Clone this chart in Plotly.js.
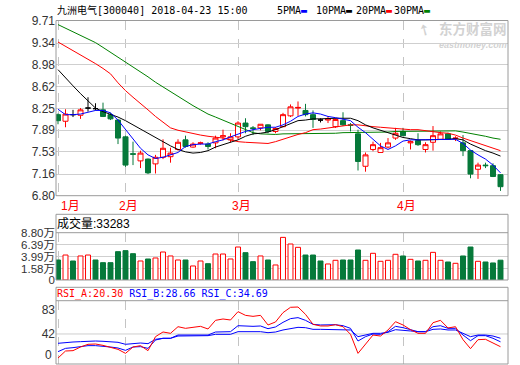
<!DOCTYPE html>
<html><head><meta charset="utf-8">
<script src="https://cdn.plot.ly/plotly-3.0.1.min.js"></script>
<style>html,body{margin:0;padding:0;background:#fff}#c{width:520px;height:365px}</style>
</head><body><div id="c"></div>
<script>
// ---------------- data ----------------
const stockName = '九洲电气', stockCode = '300040', stamp = '2018-04-23 15:00';
const dates = [
 '2018-01-19','2018-01-22','2018-01-23','2018-01-24','2018-01-25','2018-01-26','2018-01-29','2018-01-30','2018-01-31',
 '2018-02-01','2018-02-02','2018-02-05','2018-02-06','2018-02-07','2018-02-08','2018-02-09','2018-02-12','2018-02-13','2018-02-14',
 '2018-02-22','2018-02-23','2018-02-26','2018-02-27','2018-02-28',
 '2018-03-01','2018-03-02','2018-03-05','2018-03-06','2018-03-07','2018-03-08','2018-03-09','2018-03-12','2018-03-13','2018-03-14',
 '2018-03-15','2018-03-16','2018-03-19','2018-03-20','2018-03-21','2018-03-22','2018-03-23','2018-03-26','2018-03-27','2018-03-28',
 '2018-03-29','2018-03-30',
 '2018-04-02','2018-04-03','2018-04-04','2018-04-09','2018-04-10','2018-04-11','2018-04-12','2018-04-13','2018-04-16','2018-04-17',
 '2018-04-18','2018-04-19','2018-04-20','2018-04-23'];
const open  = [8.15,8.04,8.15,8.14,8.26,8.25,8.23,8.15,8.06,7.78, 7.50,7.38,7.41,7.33,7.44,7.45,7.57,7.73,7.61,7.67,
               7.66,7.68,7.78,7.73,7.78,8.01,7.93,7.93,7.98,7.87, 7.95,8.13,8.26,8.22,8.15,8.06,8.06,7.95,8.05,7.98,
               7.83,7.29,7.57,7.52,7.61,7.76,7.87,7.68,7.72,7.57, 7.69,7.74,7.83,7.75,7.68,7.55,7.24,7.31,7.30,7.15];
const high  = [8.17,8.24,8.23,8.26,8.44,8.34,8.35,8.18,8.08,7.80, 7.70,7.55,7.42,7.48,7.74,7.60,7.74,7.80,7.69,7.70,
               7.69,7.80,7.90,7.84,8.04,8.09,7.96,7.99,7.99,7.94, 8.18,8.32,8.37,8.33,8.22,8.09,8.12,8.09,8.19,8.01,
               7.90,7.52,7.70,7.68,7.76,7.93,7.93,7.72,7.84,7.69, 7.96,7.87,7.85,7.79,7.81,7.55,7.35,7.35,7.34,7.16];
const low   = [7.99,7.94,8.11,8.08,8.20,8.22,8.11,8.06,7.66,7.28, 7.31,7.26,7.16,7.17,7.41,7.35,7.55,7.60,7.60,7.65,
               7.57,7.59,7.72,7.69,7.74,7.84,7.81,7.89,7.84,7.84, 7.94,8.11,8.13,8.12,7.93,8.02,8.01,7.93,7.96,7.87,
               7.22,7.20,7.54,7.52,7.59,7.73,7.80,7.57,7.63,7.52, 7.55,7.73,7.73,7.71,7.46,7.09,7.08,7.26,7.11,6.88];
const close = [8.05,8.16,8.15,8.23,8.26,8.25,8.12,8.08,7.76,7.31, 7.49,7.51,7.18,7.44,7.59,7.51,7.69,7.62,7.66,7.68,
               7.62,7.76,7.80,7.78,8.01,7.95,7.92,7.99,7.87,7.92, 8.15,8.28,8.27,8.15,8.07,8.06,8.08,8.07,7.98,7.97,
               7.37,7.48,7.65,7.60,7.68,7.84,7.80,7.70,7.65,7.65, 7.80,7.83,7.74,7.76,7.55,7.16,7.31,7.30,7.12,6.95];
const ma5  = [8.24,8.15,8.15,8.16,8.19,8.22,8.22,8.18,8.06,7.90, 7.73,7.59,7.48,7.42,7.44,7.48,7.52,7.62,7.65,7.66,
              7.66,7.70,7.73,7.78,7.83,7.87,7.90,7.92,7.94,7.94, 7.98,8.04,8.12,8.16,8.18,8.16,8.12,8.10,8.08,8.05,
              7.94,7.85,7.74,7.63,7.57,7.63,7.71,7.73,7.73,7.73, 7.73,7.74,7.74,7.74,7.67,7.56,7.48,7.41,7.31,7.18];
const ma10 = [8.90,8.76,8.63,8.50,8.38,8.26,8.20,8.16,8.11,8.05, 7.98,7.90,7.83,7.76,7.69,7.63,7.57,7.53,7.51,7.52,
              7.55,7.61,7.65,7.69,7.73,7.79,7.83,7.84,7.86,7.90, 7.95,8.00,8.05,8.06,8.08,8.08,8.09,8.09,8.09,8.09,
              8.05,7.98,7.93,7.89,7.84,7.80,7.77,7.75,7.73,7.73, 7.73,7.73,7.74,7.75,7.73,7.66,7.60,7.55,7.51,7.46];
const ma20 = [9.36,9.29,9.22,9.15,9.08,9.00,8.92,8.83,8.68,8.55, 8.44,8.34,8.23,8.12,8.03,7.93,7.89,7.86,7.84,7.81,
              7.79,7.78,7.76,7.73,7.70,7.69,7.68,7.67,7.67,7.70, 7.74,7.79,7.82,7.85,7.90,7.91,7.93,7.94,7.96,7.98,
              7.98,7.96,7.95,7.94,7.93,7.91,7.90,7.90,7.90,7.88, 7.86,7.85,7.84,7.81,7.76,7.72,7.67,7.64,7.60,7.55];
const ma30 = [9.65,9.59,9.54,9.47,9.42,9.35,9.27,9.19,9.11,9.02, 8.94,8.86,8.78,8.69,8.61,8.53,8.45,8.38,8.30,8.23,
              8.16,8.11,8.06,8.01,7.95,7.90,7.85,7.83,7.82,7.82, 7.83,7.83,7.84,7.84,7.84,7.84,7.84,7.84,7.85,7.85,
              7.85,7.85,7.86,7.86,7.86,7.87,7.87,7.88,7.88,7.88, 7.88,7.88,7.88,7.88,7.86,7.84,7.81,7.79,7.76,7.74];
// volume in 万 (10k shares)
const volume = [3.37,4.36,3.17,4.17,4.36,3.37,2.84,2.84,5.03,5.23, 4.63,3.17,3.57,3.77,4.96,4.17,3.37,3.37,2.18,3.17,
                2.64,4.56,4.56,3.57,5.95,4.83,3.04,4.17,3.37,2.38, 7.87,6.55,5.89,4.36,4.36,3.17,2.58,3.31,3.37,3.37,
                5.36,3.31,4.70,3.11,3.31,4.50,4.17,3.50,3.17,3.31, 4.89,3.31,2.97,2.71,4.17,5.95,3.11,2.97,2.78,3.33];
const lastVolume = 33283;
const rsiA = [1.0,13.0,13.6,19.8,24.4,24.9,22.6,18.7,15.8,9.0, 19.8,22.1,13.6,37.4,45.4,43.1,54.4,51.6,53.3,55.0,
              50.5,65.2,67.5,65.8,80.0,73.7,72.0,73.7,57.3,62.4, 78.3,87.4,87.9,75.4,58.4,55.6,55.6,57.8,54.4,41.4,
              9.0,25.5,40.2,38.5,48.8,62.9,57.3,49.3,43.1,43.1, 61.2,65.2,52.2,54.4,32.3,17.0,32.3,32.9,26.6,20.30];
const rsiB = [11.9,17.5,18.7,20.4,22.1,22.1,21.5,19.8,18.1,14.1, 19.8,20.4,17.5,31.7,34.6,34.6,40.2,40.2,40.2,40.8,
              40.2,45.3,45.9,45.9,56.1,55.0,55.0,55.6,51.0,53.9, 61.8,68.1,69.8,65.2,58.4,57.3,57.3,57.8,56.1,51.6,
              30.0,37.4,41.9,41.4,45.9,55.0,52.7,49.3,45.9,45.9, 54.4,56.1,51.6,51.6,40.2,30.6,39.1,39.1,34.6,28.66];
const rsiC = [26.1,27.8,28.3,28.9,30.0,30.0,29.5,28.9,27.8,24.4, 26.1,26.6,25.5,32.9,34.6,34.6,38.5,38.5,38.5,39.1,
              39.1,41.4,41.4,41.4,45.9,45.9,45.9,45.9,44.2,45.3, 48.8,51.6,53.3,52.7,49.9,49.9,49.9,49.9,49.9,48.8,
              37.4,40.2,43.1,43.1,44.8,49.3,48.8,47.1,45.9,45.9, 49.9,50.5,48.8,48.8,43.1,37.4,40.2,40.2,38.5,34.69];
const priceTickLabels = ['9.71','9.34','8.98','8.62','8.25','7.89','7.53','7.16','6.80'];
const volTickLabels = ['8.80万','6.39万','3.99万','1.58万'];
const rsiTickLabels = ['83','42','0'];
const maNames = ['5PMA','10PMA','20PMA','30PMA'];

// ---------------- drawing ----------------
const W = 520, H = 365, ML = 56, MR = 12;
const px2x = px => (px - ML) / (W - ML - MR);
const py2y = py => 1 - py / H;
const PRICE_TOP = 21, PRICE_BOT = 195.7;
const VOL_TOP = 214.3, VOL_HEAD = 232.7, VOL_BOT = 280;
const RSI_TOP = 287.3, RSI_HEAD = 300.7, RSI_BOT = 364;
const RED = '#ff0000', GREEN = '#06793a', BLUE = '#0000ff', BLACK = '#000000', DGREEN = '#008000';
const FRAME = '#9a9a9a', GRID = '#cfcfcf', WM = '#d2d2d2';
const MONO = 'DejaVu Sans Mono, Noto Sans CJK SC, monospace';
const SANS = 'Liberation Sans, Arial, Noto Sans CJK SC, sans-serif';

const idx = dates.map((_, i) => i);
const upDay = idx.map(i => close[i] > open[i] || (close[i] === open[i] && i > 0 && close[i] >= close[i - 1]));
const sub = (arr, ids) => ids.map(i => arr[i]);
function candles(ids, incLine, incFill, decLine, decFill) {
  return {type: 'candlestick', x: sub(dates, ids), open: sub(open, ids), high: sub(high, ids),
    low: sub(low, ids), close: sub(close, ids), whiskerwidth: 0, hoverinfo: 'skip', showlegend: false,
    increasing: {line: {color: incLine, width: 1}, fillcolor: incFill},
    decreasing: {line: {color: decLine, width: 1}, fillcolor: decFill}, xaxis: 'x', yaxis: 'y'};
}
const upIds = idx.filter(i => close[i] > open[i]);
const dnIds = idx.filter(i => close[i] < open[i]);
const djIds = idx.filter(i => close[i] === open[i]);
const line = (y, color, ax) => ({type: 'scatter', mode: 'lines', x: dates, y, line: {color, width: 1},
  hoverinfo: 'skip', showlegend: false, xaxis: 'x', yaxis: ax});

const priceVals = priceTickLabels.map(Number);
const volVals = volTickLabels.map(s => parseFloat(s));
const rsiVals = rsiTickLabels.map(Number);
const VOL_BASE = -0.61;
const volMaxV = Math.max(...volVals);

const traces = [
  candles(upIds, RED, '#ffffff', RED, '#ffffff'),
  candles(dnIds, GREEN, GREEN, GREEN, GREEN),
  candles(djIds, BLACK, BLACK, BLACK, BLACK),
  line(ma30, DGREEN, 'y'), line(ma20, RED, 'y'), line(ma10, BLACK, 'y'), line(ma5, BLUE, 'y'),
  {type: 'bar', x: dates, y: volume.map(v => v - VOL_BASE), base: VOL_BASE, width: 0.66,
   marker: {color: upDay.map(u => u ? '#ffffff' : GREEN), line: {color: upDay.map(u => u ? RED : GREEN), width: 1}},
   hoverinfo: 'skip', showlegend: false, xaxis: 'x', yaxis: 'y2'},
  line(rsiC, BLUE, 'y3'), line(rsiB, BLUE, 'y3'), line(rsiA, RED, 'y3')
];

const monthStarts = idx.filter(i => i === 0 || dates[i].slice(5, 7) !== dates[i - 1].slice(5, 7));

const rect = (top, bot) => ({type: 'rect', xref: 'paper', yref: 'paper', x0: 0, x1: 1, y0: py2y(bot), y1: py2y(top),
  line: {color: FRAME, width: 1}, fillcolor: 'rgba(0,0,0,0)', layer: 'above'});
const hline = (yp) => ({type: 'line', xref: 'paper', yref: 'paper', x0: 0, x1: 1, y0: py2y(yp), y1: py2y(yp),
  line: {color: FRAME, width: 1}, layer: 'above'});

const maColors = [BLUE, BLACK, RED, DGREEN];
const maX = [276, 315, 355, 393];
const ann = [
  {text: stockName + '[' + stockCode + '] ' + stamp, x: px2x(56), y: py2y(10), xanchor: 'left', yanchor: 'middle',
   font: {family: MONO, size: 10, color: '#000'}},
  ...maNames.map((n, i) => ({text: n + '<span style="color:' + maColors[i] + '">▬</span>', x: px2x(maX[i]), y: py2y(10),
   xanchor: 'left', yanchor: 'middle', font: {family: MONO, size: 10, color: '#000'}})),
  {text: '成交量:' + lastVolume, x: px2x(56), y: py2y(223.5), xanchor: 'left', yanchor: 'middle',
   font: {family: SANS, size: 12, color: '#000'}},
  {text: '<span style="color:' + RED + '">RSI_A:' + rsiA[rsiA.length - 1].toFixed(2) + '</span> ' +
         '<span style="color:' + BLUE + '">RSI_B:' + rsiB[rsiB.length - 1].toFixed(2) + '</span> ' +
         '<span style="color:' + BLUE + '">RSI_C:' + rsiC[rsiC.length - 1].toFixed(2) + '</span>',
   x: px2x(56), y: py2y(294), xanchor: 'left', yanchor: 'middle', font: {family: MONO, size: 10, color: '#000'}},
  {text: '<b>东方财富网</b>', x: px2x(508), y: py2y(28), xanchor: 'right', yanchor: 'middle',
   font: {family: 'Noto Sans CJK SC', size: 13.5, color: WM}},
  {text: '<b><i>eastmoney.com</i></b>', x: px2x(508), y: py2y(44.5), xanchor: 'right', yanchor: 'middle',
   font: {family: SANS, size: 9, color: WM}},
  {text: '<b>➚</b>', x: px2x(424), y: py2y(30), xanchor: 'center', yanchor: 'middle', textangle: -60,
   font: {family: 'DejaVu Sans', size: 15, color: WM}},
  // month labels under the price panel
  ...monthStarts.map(i => ({text: parseInt(dates[i].slice(5, 7), 10) + '月', xref: 'x', x: dates[i], y: py2y(206),
   xanchor: i === 0 ? 'left' : 'center', xshift: i === 0 ? 2 : 3, yanchor: 'middle',
   font: {family: SANS, size: 12, color: RED}})),
  // lowest RSI label, drawn slightly above its value like the reference
  {text: rsiTickLabels[2], x: 0, xanchor: 'right', xshift: -3, yref: 'y3', y: rsiVals[2], yshift: 4, yanchor: 'middle',
   font: {family: SANS, size: 12, color: '#333'}}
].map(a => Object.assign({xref: 'paper', yref: 'paper', showarrow: false, borderpad: 0}, a));

const yCommon = {ticks: '', zeroline: false, showline: false, fixedrange: true,
  tickfont: {family: SANS, size: 12, color: '#333'}, gridcolor: GRID, gridwidth: 1, anchor: 'x'};

const layout = {
  width: W, height: H, margin: {l: ML, r: MR, t: 0, b: 0, pad: 0}, autosize: false,
  paper_bgcolor: '#fff', plot_bgcolor: '#fff', showlegend: false, boxgap: 0.333, boxgroupgap: 0, bargap: 0,
  xaxis: {type: 'category', categoryorder: 'array', categoryarray: dates, range: [-0.267, dates.length], anchor: 'y',
    rangeslider: {visible: false}, tickmode: 'array', tickvals: monthStarts.map(i => dates[i]),
    showticklabels: false, ticks: '',
    showgrid: true, gridcolor: '#c4c4c4', griddash: 'dash', gridwidth: 1, zeroline: false, showline: false, fixedrange: true},
  yaxis: Object.assign({}, yCommon, {domain: [py2y(PRICE_BOT), py2y(PRICE_TOP)],
    range: [Math.min(...priceVals), Math.max(...priceVals)], tickmode: 'array', tickvals: priceVals,
    ticktext: priceTickLabels, showgrid: true}),
  yaxis2: Object.assign({}, yCommon, {domain: [py2y(VOL_BOT), py2y(VOL_HEAD)], range: [VOL_BASE, volMaxV],
    tickmode: 'array', tickvals: volVals.concat([VOL_BASE]), ticktext: volTickLabels.concat(['0']), showgrid: true,
    tickfont: {family: SANS, size: 11.5, color: '#333'}, ticklabeloverflow: 'allow'}),
  yaxis3: Object.assign({}, yCommon, {domain: [py2y(RSI_BOT), py2y(RSI_HEAD)], range: [-9.14, 98.65],
    tickmode: 'array', tickvals: rsiVals.slice(0, 2), ticktext: rsiTickLabels.slice(0, 2), showgrid: false}),
  shapes: [
    {type: 'line', xref: 'paper', yref: 'y3', x0: 0, x1: 1, y0: rsiVals[1], y1: rsiVals[1], line: {color: GRID, width: 1}, layer: 'below'},
    rect(PRICE_TOP - 0.5, PRICE_BOT), rect(VOL_TOP, VOL_BOT), hline(VOL_HEAD), rect(RSI_TOP, RSI_BOT), hline(RSI_HEAD)
  ],
  annotations: ann
};
Plotly.newPlot('c', traces, layout, {staticPlot: true, displayModeBar: false});
</script></body></html>
